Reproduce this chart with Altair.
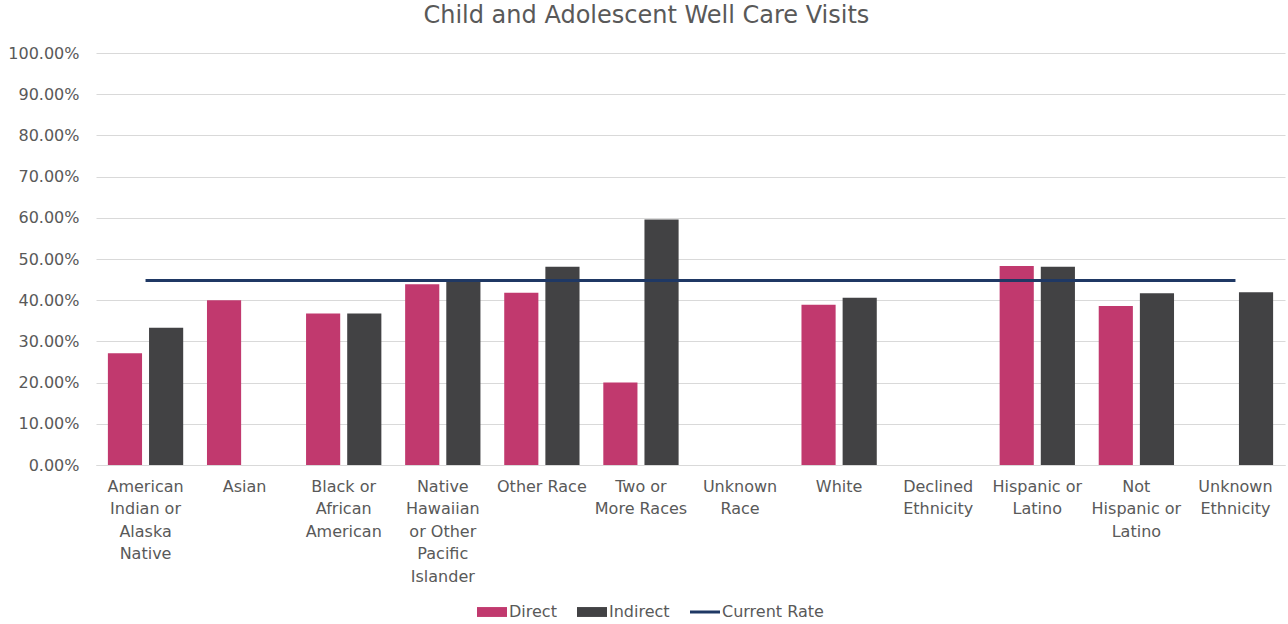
import altair as alt
import pandas as pd

# Categories (axis labels wrapped with "|")
categories = [
    "American|Indian or|Alaska|Native",
    "Asian",
    "Black or|African|American",
    "Native|Hawaiian|or Other|Pacific|Islander",
    "Other Race",
    "Two or|More Races",
    "Unknown|Race",
    "White",
    "Declined|Ethnicity",
    "Hispanic or|Latino",
    "Not|Hispanic or|Latino",
    "Unknown|Ethnicity",
]
direct = [0.271, 0.400, 0.368, 0.439, 0.418, 0.200, None, 0.389, None, 0.483, 0.386, None]
indirect = [0.333, None, 0.368, 0.446, 0.481, 0.596, None, 0.406, None, 0.481, 0.417, 0.419]
current_rate = 0.448

series = ["Direct", "Indirect", "Current Rate"]
colors = ["#C1396E", "#424244", "#1F3864"]
y_ticks = [i / 10 for i in range(11)]

FONT = "DejaVu Sans"
TEXT = "#595959"
GRID = "#D9D9D9"

rows = []
for cat, d, ind in zip(categories, direct, indirect):
    if d is not None:
        rows.append({"category": cat, "series": "Direct", "rate": d})
    if ind is not None:
        rows.append({"category": cat, "series": "Indirect", "rate": ind})
bars_df = pd.DataFrame(rows)
line_df = pd.DataFrame({"category": categories, "rate": [current_rate] * len(categories)})
legend_df = pd.DataFrame({"series": series})

x_enc = alt.X(
    "category:N",
    sort=categories,
    scale=alt.Scale(domain=categories, paddingInner=0.24, paddingOuter=0.12),
    axis=alt.Axis(
        title=None,
        labelAngle=0,
        labelExpr="split(datum.label, '|')",
        labelFont=FONT,
        labelFontSize=16,
        labelColor=TEXT,
        labelLineHeight=22.5,
        labelPadding=13,
        labelLimit=200,
        ticks=False,
        domainColor=GRID,
        grid=False,
    ),
)
y_scale = alt.Scale(domain=[0, 1], nice=False)
y_axis = alt.Axis(
    title=None,
    values=y_ticks,
    format=".2%",
    labelFont=FONT,
    labelFontSize=16,
    labelColor=TEXT,
    labelPadding=17,
    ticks=False,
    domain=False,
    gridColor=GRID,
)
color_scale = alt.Scale(domain=series, range=colors)

bars = alt.Chart(bars_df).mark_bar().encode(
    x=x_enc,
    xOffset=alt.XOffset(
        "series:N",
        scale=alt.Scale(domain=["Direct", "Indirect"], paddingInner=0.17, paddingOuter=0),
    ),
    y=alt.Y("rate:Q", scale=y_scale, axis=y_axis),
    color=alt.Color("series:N", scale=color_scale, legend=None),
)

rate_line = alt.Chart(line_df).mark_line(color="#1F3864", strokeWidth=3).encode(
    x=alt.X("category:N", sort=categories),
    y=alt.Y("rate:Q", scale=y_scale),
)

legend_cfg = alt.Legend(
    title=None,
    orient="none",
    legendX=381,
    legendY=544,
    direction="horizontal",
    labelFont=FONT,
    labelFontSize=16,
    labelColor=TEXT,
    labelOffset=2,
    columnPadding=20,
    symbolSize=900,
    symbolStrokeWidth=0,
    symbolOpacity=1,
)
shape_paths = [
    "M-1,-0.33H1V0.33H-1Z",
    "M-1,-0.33H1V0.33H-1Z",
    "M-1,-0.1H1V0.1H-1Z",
]
legend_layer = (
    alt.Chart(legend_df)
    .mark_point(filled=True, opacity=1)
    .encode(
        color=alt.Color("series:N", scale=color_scale, legend=legend_cfg),
        shape=alt.Shape("series:N", scale=alt.Scale(domain=series, range=shape_paths), legend=legend_cfg),
    )
    .transform_filter("false")
)

chart = (
    alt.layer(bars, rate_line, legend_layer)
    .resolve_legend(color="independent", shape="independent")
    .properties(
        width=1189,
        height=412,
        autosize=alt.AutoSizeParams(type="none"),
        padding={"left": 96, "top": 53, "right": 3, "bottom": 159},
        title=alt.TitleParams(
            "Child and Adolescent Well Care Visits",
            font=FONT,
            fontSize=24,
            fontWeight="normal",
            color=TEXT,
            anchor="middle",
            frame="bounds",
            offset=17,
        ),
    )
    .configure(background="white")
    .configure_view(stroke="transparent", strokeWidth=0)
    .configure_axisX(grid=False)
)

chart.save("out.html", embed_options={"renderer": "svg", "actions": False})
